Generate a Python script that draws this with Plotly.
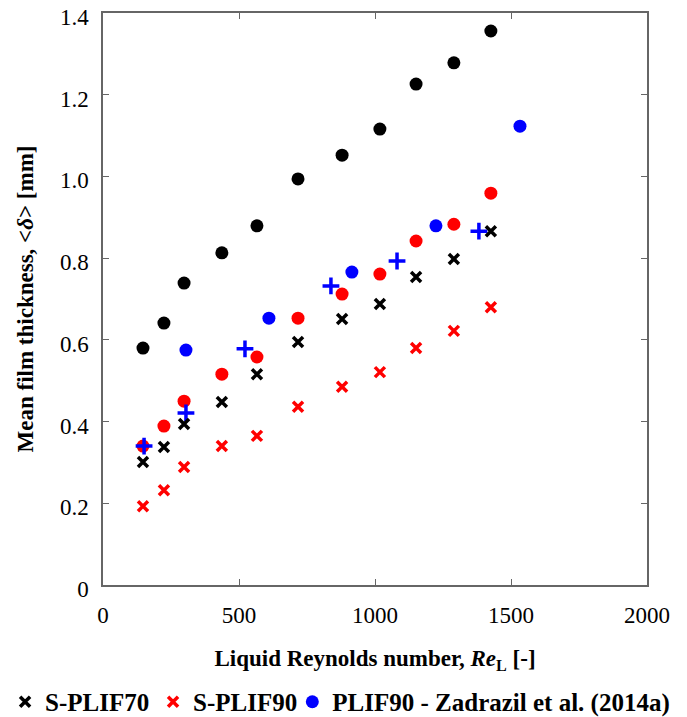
import plotly.graph_objects as go

re_main = [147, 224, 298, 437, 566, 717, 879, 1018, 1151, 1290, 1426]
black_circle = [0.580, 0.641, 0.739, 0.813, 0.879, 0.994, 1.052, 1.116, 1.226, 1.278, 1.356]
red_circle = [0.340, 0.389, 0.450, 0.516, 0.558, 0.653, 0.712, 0.761, 0.842, 0.883, 0.959]
black_x = [0.301, 0.338, 0.394, 0.448, 0.516, 0.595, 0.651, 0.688, 0.754, 0.798, 0.866]
red_x = [0.193, 0.232, 0.289, 0.340, 0.365, 0.436, 0.485, 0.521, 0.580, 0.622, 0.680]

re_blue_circle = [305, 610, 915, 1224, 1533]
blue_circle = [0.575, 0.653, 0.766, 0.879, 1.123]

re_blue_plus = [151, 305, 522, 838, 1081, 1382]
blue_plus = [0.340, 0.421, 0.578, 0.732, 0.793, 0.866]

x_ticks = [0, 500, 1000, 1500, 2000]
y_ticks = [0, 0.2, 0.4, 0.6, 0.8, 1.0, 1.2, 1.4]
y_tick_labels = ["0", "0.2", "0.4", "0.6", "0.8", "1.0", "1.2", "1.4"]

FONT = "Liberation Serif, Times New Roman, serif"

fig = go.Figure()

fig.add_trace(go.Scatter(x=re_main, y=black_circle, mode="markers", showlegend=False,
                         marker=dict(symbol="circle", size=13, color="black")))
fig.add_trace(go.Scatter(x=re_main, y=red_circle, mode="markers", showlegend=False,
                         marker=dict(symbol="circle", size=13, color="red")))
fig.add_trace(go.Scatter(x=re_blue_plus, y=blue_plus, mode="markers", showlegend=False,
                         marker=dict(symbol="cross-thin", size=12, color="blue",
                                     line=dict(width=3.5, color="blue"))))
fig.add_trace(go.Scatter(x=re_main, y=black_x, mode="markers", name="S-PLIF70",
                         legend="legend",
                         marker=dict(symbol="x-thin", size=10, color="black",
                                     line=dict(width=3.5, color="black"))))
fig.add_trace(go.Scatter(x=re_main, y=red_x, mode="markers", name="S-PLIF90",
                         legend="legend2",
                         marker=dict(symbol="x-thin", size=10, color="red",
                                     line=dict(width=3.5, color="red"))))
fig.add_trace(go.Scatter(x=re_blue_circle, y=blue_circle, mode="markers",
                         name="PLIF90 - Zadrazil et al. (2014a)", legend="legend3",
                         marker=dict(symbol="circle", size=13, color="blue")))

axis_common = dict(
    showline=True, linecolor="#666", linewidth=1.5, mirror="allticks",
    ticks="inside", ticklen=6, tickwidth=1.2, tickcolor="#666",
    showgrid=False, zeroline=False, ticklabeloverflow="allow",
    tickfont=dict(family=FONT, size=23, color="black"),
)

fig.update_xaxes(range=[0, 2000], tickvals=x_ticks, ticklabelstandoff=9, **axis_common,
                 title=dict(text="<b>Liquid Reynolds number, <i>Re</i><sub>L</sub> [-]</b>",
                            font=dict(family=FONT, size=23, color="black"), standoff=23))
fig.update_yaxes(range=[0, 1.4], tickvals=y_ticks, ticktext=y_tick_labels,
                 ticklabelstandoff=8, ticklabelshift=4, **axis_common,
                 title=dict(text="<b>Mean film thickness, <<i>δ</i>> [mm]</b>",
                            font=dict(family=FONT, size=23, color="black"), standoff=20))

leg_font = dict(family=FONT, size=25, color="black", weight="bold")
leg_common = dict(orientation="h", y=-0.2045, yanchor="middle", xanchor="left",
                  font=leg_font, itemwidth=30, bgcolor="rgba(0,0,0,0)")

fig.update_layout(
    width=687, height=717,
    margin=dict(l=103, r=40, t=13, b=132, autoexpand=False),
    plot_bgcolor="white", paper_bgcolor="white",
    font=dict(family=FONT, color="black"),
    legend=dict(x=-0.180, **leg_common),
    legend2=dict(x=0.092, **leg_common),
    legend3=dict(x=0.348, **leg_common),
)

fig.write_html("out.html", config={"displayModeBar": False},
               post_script="document.body.style.margin='0';")
